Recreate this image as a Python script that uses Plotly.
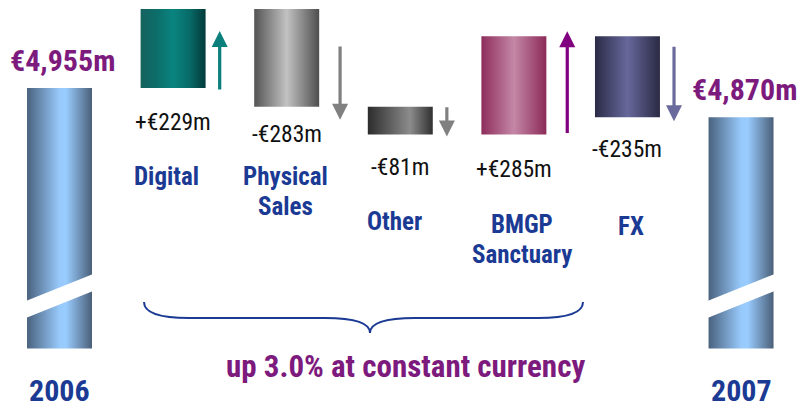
import plotly.graph_objects as go

# ---------------- data ----------------
categories = ["2006", "Digital", "Physical<br>Sales", "Other", "BMGP<br>Sanctuary", "FX", "2007"]
start_total = 4955
changes = [229, -283, -81, 285, -235]
end_total = 4870
total_labels = ["€4,955m", "€4,870m"]
change_labels = ["+€229m", "-€283m", "-€81m", "+€285m", "-€235m"]
year_labels = ["2006", "2007"]
footnote = "up 3.0% at constant currency"

# ---------------- style ----------------
W, H = 800, 409
Y_MIN, Y_MAX = 4025, 5210
X_MIN, X_MAX = -0.524, 6.519
BREAK_BASE = 4200
BAR_W = 0.572
NARROW = "Roboto Condensed, Liberation Sans Narrow, Arial Narrow, sans-serif"
PURPLE = "#7d1a7d"
BLUE = "#1b3a94"

UPX = (Y_MAX - Y_MIN) / H          # data units per pixel (y)
XPX = (X_MAX - X_MIN) / W          # data units per pixel (x)

def px_to_y(py):
    return Y_MAX - py * UPX

def px_to_x(px):
    return X_MIN + px * XPX

total_scale = [[0, "#4a627e"], [0.5, "#97c9fb"], [0.6, "#99ccff"], [1, "#4a5f78"]]
step_scales = [
    [[0, "#15625e"], [0.25, "#0c6e6a"], [0.5, "#0a847f"], [0.75, "#076b68"], [1, "#033a3a"]],
    [[0, "#545454"], [0.5, "#c2c2c2"], [1, "#4e4e4e"]],
    [[0, "#2c2c2c"], [0.65, "#8c8c8c"], [1, "#303030"]],
    [[0, "#8e2d5c"], [0.5, "#c487a6"], [1, "#8c2a58"]],
    [[0, "#2b2b47"], [0.5, "#67689b"], [1, "#2a2a44"]],
]
arrow_colors = ["#0b7f7b", "#808080", "#808080", "#800080", "#6a6a9c"]
arrow_dx = [0.41, 0.47, 0.41, 0.47, 0.41]
arrow_tail_px = [3, 36, -1, 0, 9]      # pixel offset below start level
arrow_tip_px = [22, 13, 2, -5, 4]      # pixel offset below end level
value_label_px = [34, 27, 32, 34, 32]  # label centre, pixels below bar bottom
cat_label_py = [176, 176, 222, 224, 226]   # first line centre (pixels from top)
CAT_LINE_GAP = 30
cat_label_dx = [-0.06, -0.01, -0.05, 0.07, 0.03]

fig = go.Figure()

def add_bar(xc, lo, hi, scale):
    x0, x1 = xc - BAR_W / 2, xc + BAR_W / 2
    fig.add_trace(go.Scatter(
        x=[x0, x1, x1, x0, x0], y=[lo, lo, hi, hi, lo],
        mode="lines", line=dict(width=0), fill="toself",
        fillgradient=dict(type="horizontal", colorscale=scale),
        hoverinfo="skip", showlegend=False))

# totals
totals = [start_total, end_total]
total_pos = [0, len(categories) - 1]
for pos, val in zip(total_pos, totals):
    add_bar(pos, BREAK_BASE, val, total_scale)

# steps
level = start_total
annotations = []
for k, ch in enumerate(changes):
    pos = k + 1
    lo, hi = min(level, level + ch), max(level, level + ch)
    add_bar(pos, lo, hi, step_scales[k])
    # arrow
    tail = level - arrow_tail_px[k] * UPX
    tip = level + ch - arrow_tip_px[k] * UPX
    annotations.append(dict(
        x=pos + arrow_dx[k], y=tip, ax=pos + arrow_dx[k], ay=tail,
        xref="x", yref="y", axref="x", ayref="y", text="",
        showarrow=True, arrowhead=2, arrowsize=1.0, arrowwidth=3.2,
        arrowcolor=arrow_colors[k], standoff=0, startstandoff=0))
    # value label
    annotations.append(dict(
        x=pos, y=lo - value_label_px[k] * UPX, xref="x", yref="y",
        text=change_labels[k], showarrow=False, yanchor="middle",
        font=dict(family=NARROW, size=23.5, color="#111111")))
    # category label (one annotation per line)
    for j, line in enumerate(categories[pos].split("<br>")):
        annotations.append(dict(
            x=pos + cat_label_dx[k], y=1 - (cat_label_py[k] + j * CAT_LINE_GAP) / H,
            xref="x", yref="paper", text="<b>" + line + "</b>", showarrow=False,
            yanchor="middle", font=dict(family=NARROW, size=25, color=BLUE)))
    level += ch

# total labels and year labels
for pos, val, lab, yr in zip(total_pos, totals, total_labels, year_labels):
    annotations.append(dict(
        x=pos + 0.03, y=val, xref="x", yref="y", text="<b>" + lab + "</b>",
        showarrow=False, yanchor="bottom", yshift=8,
        font=dict(family=NARROW, size=30, color=PURPLE)))
    annotations.append(dict(
        x=pos, y=0, xref="x", yref="paper", text="<b>" + yr + "</b>",
        showarrow=False, yanchor="bottom", borderpad=0,
        font=dict(family=NARROW, size=30, color=BLUE)))

annotations.append(dict(
    x=px_to_x(405), y=1 - 366 / H, xref="x", yref="paper",
    text="<b>" + footnote + "</b>", showarrow=False, yanchor="middle",
    font=dict(family=NARROW, size=31, color=PURPLE)))

shapes = []
# axis-break stripes on the total bars
for pos in total_pos:
    x0, x1 = pos - BAR_W / 2 - 0.01, pos + BAR_W / 2 + 0.01
    path = (f"M {x0},{px_to_y(301)} L {x1},{px_to_y(274)} "
            f"L {x1},{px_to_y(291)} L {x0},{px_to_y(318)} Z")
    shapes.append(dict(type="path", path=path, xref="x", yref="y",
                       fillcolor="white", line=dict(width=0), layer="above"))

# curly brace
bx0, bxm, bx1 = px_to_x(144), px_to_x(370), px_to_x(583)
by0, by1, by2 = px_to_y(302), px_to_y(318), px_to_y(333)
r = 45 * XPX
brace = (f"M {bx0},{by0} Q {bx0},{by1} {bx0 + r},{by1} "
         f"L {bxm - r},{by1} Q {bxm},{by1} {bxm},{by2} "
         f"Q {bxm},{by1} {bxm + r},{by1} "
         f"L {bx1 - r},{by1} Q {bx1},{by1} {bx1},{by0}")
shapes.append(dict(type="path", path=brace, xref="x", yref="y",
                   line=dict(color=BLUE, width=2)))

fig.update_layout(
    width=W, height=H, margin=dict(l=0, r=0, t=0, b=0),
    paper_bgcolor="white", plot_bgcolor="white",
    xaxis=dict(range=[X_MIN, X_MAX], visible=False, fixedrange=True),
    yaxis=dict(range=[Y_MIN, Y_MAX], visible=False, fixedrange=True),
    annotations=annotations, shapes=shapes, showlegend=False,
)

fig.write_html(
    "out.html",
    config={"displayModeBar": False, "staticPlot": True},
    post_script="document.body.style.margin='0';document.body.style.overflow='hidden';",
)
